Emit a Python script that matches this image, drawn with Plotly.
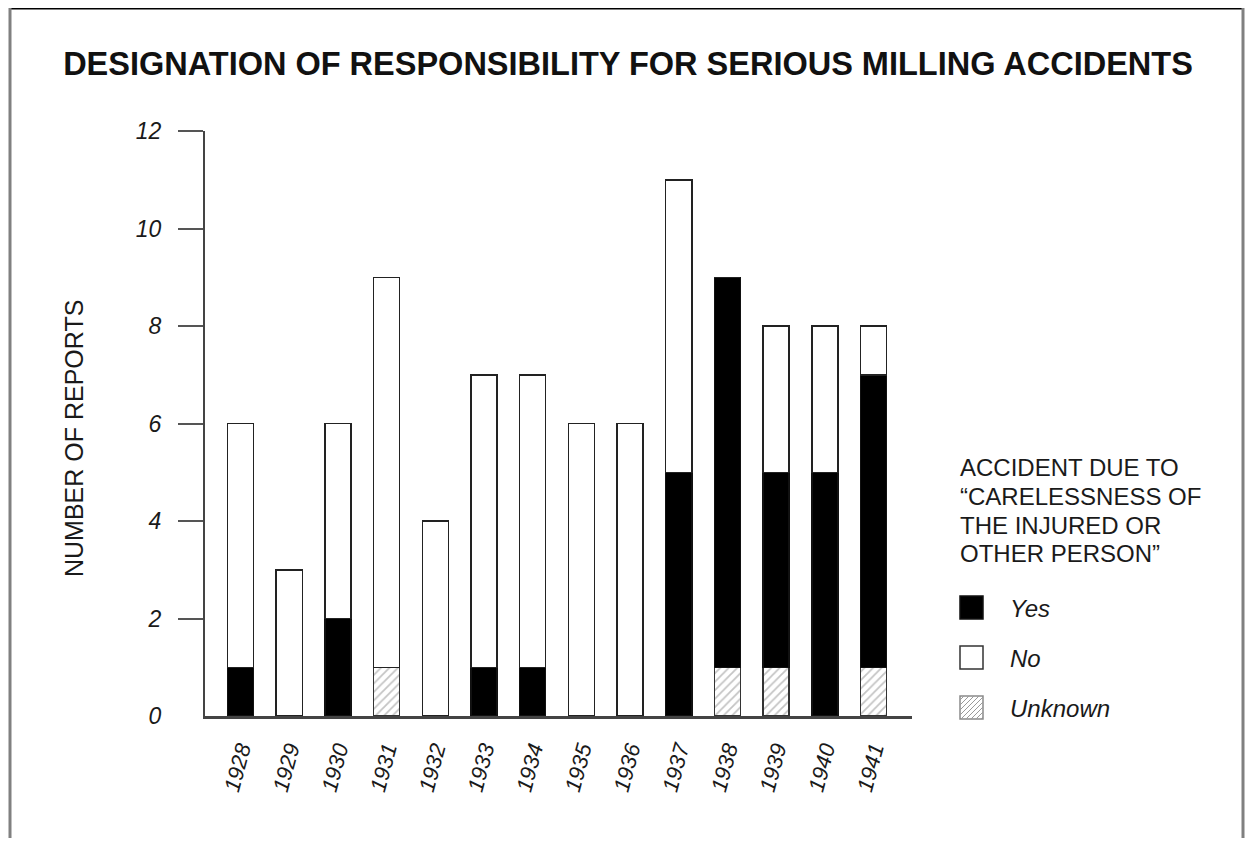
import plotly.graph_objects as go

# ---- data ----
years = ["1928", "1929", "1930", "1931", "1932", "1933", "1934",
         "1935", "1936", "1937", "1938", "1939", "1940", "1941"]
unknown = [0, 0, 0, 1, 0, 0, 0, 0, 0, 0, 1, 1, 0, 1]
yes = [1, 0, 2, 0, 0, 1, 1, 0, 0, 5, 8, 4, 5, 6]
no = [5, 3, 4, 8, 4, 6, 6, 6, 6, 6, 0, 3, 3, 1]
y_ticks = [0, 2, 4, 6, 8, 10, 12]

title_text = "DESIGNATION OF RESPONSIBILITY FOR SERIOUS MILLING ACCIDENTS"
legend_title_lines = ["ACCIDENT DUE TO", "\u201cCARELESSNESS OF", "THE INJURED OR", "OTHER PERSON\u201d"]
legend_labels = ["Yes", "No", "Unknown"]

# ---- layout geometry (screen pixels; page body adds an 8px offset) ----
OFF = 8
W, H = 1253 - OFF, 846 - 2 * OFF
L, R, T, B = 205, 912, 131, 716   # plot area in screen pixels
FONT = "Liberation Sans, Arial, Helvetica, sans-serif"
TXT = "#1a1a1a"


def px(x):
    return (x - L) / (R - L)


def py(y):
    return (B - y) / (B - T)


fig = go.Figure()
bar_w = 0.535
fig.add_trace(go.Bar(
    x=years, y=unknown, name="Unknown", width=bar_w,
    marker=dict(color="white",
                pattern=dict(shape="/", fgcolor="#8a8a8a", bgcolor="white", size=6, solidity=0.3),
                line=dict(color="#333333", width=1.5)),
    showlegend=False))
fig.add_trace(go.Bar(
    x=years, y=yes, name="Yes", width=bar_w,
    marker=dict(color="black", line=dict(color="#111111", width=1.5)),
    showlegend=False))
fig.add_trace(go.Bar(
    x=years, y=no, name="No", width=bar_w,
    marker=dict(color="white", line=dict(color="#222222", width=1.5)),
    showlegend=False))

shapes = []
# frame around the figure
shapes.append(dict(type="line", xref="paper", yref="paper", x0=px(9), x1=px(1244), y0=py(8), y1=py(8),
                   line=dict(color="black", width=3)))
shapes.append(dict(type="line", xref="paper", yref="paper", x0=px(10), x1=px(10), y0=py(8), y1=py(850),
                   line=dict(color="#808080", width=3)))
shapes.append(dict(type="line", xref="paper", yref="paper", x0=px(1243), x1=px(1243), y0=py(8), y1=py(850),
                   line=dict(color="#808080", width=3)))

# legend keys
key_x0, key_x1 = 960, 983
key_rows = [(596, 619), (646, 669), (696, 719)]
fills = ["black", "white", "white"]
borders = ["#111111", "#333333", "#8a8a8a"]
for (y0, y1), fc, bc in zip(key_rows, fills, borders):
    shapes.append(dict(type="rect", xref="paper", yref="paper",
                       x0=px(key_x0), x1=px(key_x1), y0=py(y1), y1=py(y0),
                       fillcolor=fc, line=dict(color=bc, width=1.5)))
# hatch for unknown key
y0, y1 = key_rows[2]
path = ""
c = key_x0 + y0 + 4
while c < key_x1 + y1:
    xa = max(key_x0, c - y1)
    xb = min(key_x1, c - y0)
    if xb > xa:
        path += f"M{px(xa)},{py(c - xa)} L{px(xb)},{py(c - xb)} "
    c += 5
shapes.append(dict(type="path", xref="paper", yref="paper", path=path,
                   line=dict(color="#9a9a9a", width=1)))

annotations = []
annotations.append(dict(text="NUMBER OF REPORTS", xref="paper", yref="paper",
                        x=px(74), y=py(439), showarrow=False, textangle=-90,
                        xanchor="center", yanchor="middle",
                        font=dict(family=FONT, size=25, color=TXT)))
for line, yc in zip(legend_title_lines, [467, 496, 525, 553]):
    annotations.append(dict(text=line, xref="paper", yref="paper", x=px(958), y=py(yc),
                            showarrow=False, xanchor="left", yanchor="middle",
                            font=dict(family=FONT, size=24, color=TXT)))
for lab, (ya, yb) in zip(legend_labels, key_rows):
    annotations.append(dict(text=lab, xref="paper", yref="paper", x=px(1008), y=py((ya + yb) / 2 + 1),
                            showarrow=False, xanchor="left", yanchor="middle",
                            font=dict(family=FONT, size=24, color=TXT, style="italic")))

fig.update_layout(
    width=W, height=H,
    margin=dict(l=L - OFF, r=(W + OFF) - R, t=T - OFF, b=(H + OFF) - B, pad=0),
    paper_bgcolor="white", plot_bgcolor="white",
    barmode="stack", bargap=0.3,
    title=dict(text=title_text, x=(628 - OFF) / W, xref="container", xanchor="center",
               y=1 - (64 - OFF) / H, yref="container", yanchor="middle",
               font=dict(family=FONT, size=32.5, color="#111111", weight="bold")),
    xaxis=dict(type="category", range=[-0.73, 13.79], showline=True, linecolor="#444444", linewidth=2.5,
               ticks="", tickangle=-75, ticklabelstandoff=9, showgrid=False, zeroline=False,
               tickfont=dict(family=FONT, size=22, color=TXT, style="italic")),
    yaxis=dict(range=[0, 12], tickvals=y_ticks, showline=True, linecolor="#444444", linewidth=2,
               ticks="", ticklabelstandoff=37, showgrid=False, zeroline=False,
               minor=dict(tickvals=y_ticks[1:], ticks="outside", ticklen=25, tickwidth=2, tickcolor="#555555"),
               tickfont=dict(family=FONT, size=23, color=TXT, style="italic")),
    shapes=shapes, annotations=annotations,
)

fig.write_html("out.html")
